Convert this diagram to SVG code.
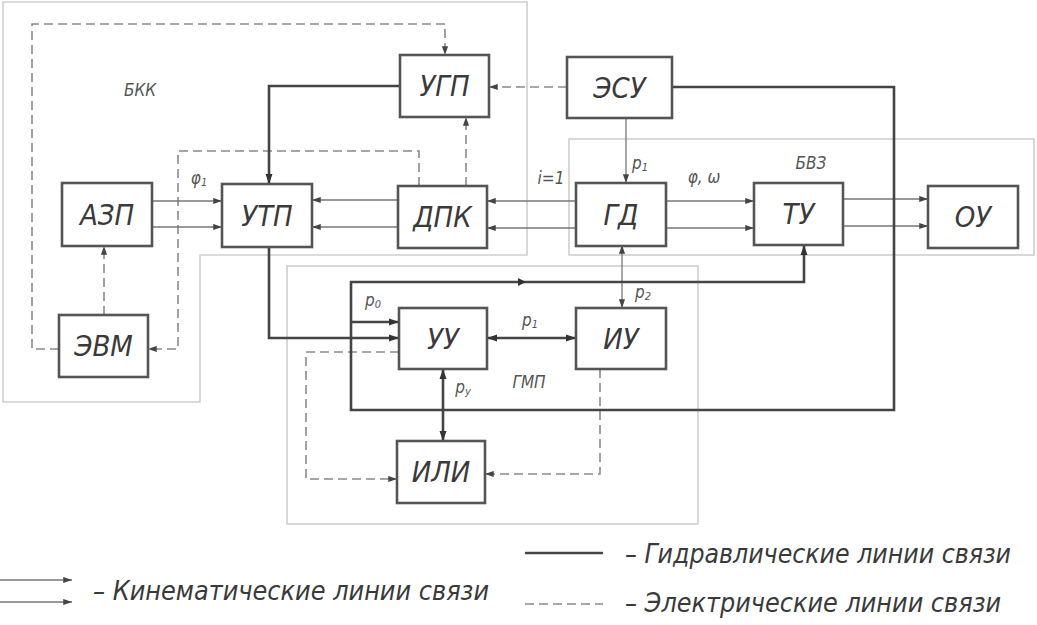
<svg xmlns="http://www.w3.org/2000/svg" width="1037" height="625" viewBox="0 0 1037 625">
<defs>
<style>
.bnd{fill:none;stroke:#cfcfcf;stroke-width:1.6}
.box{fill:#fff;stroke:#555;stroke-width:2.6}
.bl{font-family:"DejaVu Sans Condensed","Liberation Sans Narrow","Liberation Sans",sans-serif;font-style:italic;font-size:29px;fill:#3a3a3a;text-anchor:middle;dominant-baseline:central}
.lb{font-family:"DejaVu Sans Condensed","Liberation Sans Narrow","Liberation Sans",sans-serif;font-style:italic;font-size:17px;fill:#555;text-anchor:middle;dominant-baseline:central}
.lg{font-family:"DejaVu Sans Condensed","Liberation Sans Narrow","Liberation Sans",sans-serif;font-style:italic;font-size:26px;fill:#3a3a3a}
.hyd{fill:none;stroke:#444;stroke-width:2.6}
.kin{fill:none;stroke:#777;stroke-width:1.3}
.el{fill:none;stroke:#8a8a8a;stroke-width:1.6;stroke-dasharray:9 5}
</style>
<marker id="ah" viewBox="0 0 10 8" refX="10" refY="4" markerWidth="10" markerHeight="8" markerUnits="userSpaceOnUse" orient="auto-start-reverse"><path d="M0,0.5 L10,4 L0,7.5 Z" fill="#333"/></marker>
<marker id="ahs" viewBox="0 0 10 8" refX="10" refY="4" markerWidth="9" markerHeight="7" markerUnits="userSpaceOnUse" orient="auto-start-reverse"><path d="M0,0.5 L10,4 L0,7.5 Z" fill="#444"/></marker>
</defs>
<rect width="1037" height="625" fill="#fff"/>

<g id="boundaries">
<path class="bnd" d="M3,2 H527 V255 H200 V402 H3 Z"/>
<rect class="bnd" x="569" y="139" width="465" height="116"/>
<rect class="bnd" x="287" y="266" width="411" height="258"/>
</g>

<g id="connectors">
<!-- electrical -->
<path class="el" d="M59,349 H32 V24 H445 V55" marker-end="url(#ahs)"/>
<path class="el" d="M419,186 V151 H178 V349 H148" marker-end="url(#ahs)"/>
<path class="el" d="M104,315 V246" marker-end="url(#ahs)"/>
<path class="el" d="M466,186 V117" marker-end="url(#ahs)"/>
<path class="el" d="M567,87 H489" marker-end="url(#ahs)"/>
<path class="el" d="M399,352 H306 V479 H397" marker-end="url(#ahs)"/>
<path class="el" d="M600,369 V474 H485" marker-end="url(#ahs)"/>
<!-- kinematic -->
<path class="kin" d="M152,201 H222" marker-end="url(#ahs)"/>
<path class="kin" d="M152,227 H222" marker-end="url(#ahs)"/>
<path class="kin" d="M398,200 H312" marker-end="url(#ahs)"/>
<path class="kin" d="M398,227 H312" marker-end="url(#ahs)"/>
<path class="kin" d="M576,201 H487" marker-end="url(#ahs)"/>
<path class="kin" d="M576,228 H487" marker-end="url(#ahs)"/>
<path class="kin" d="M666,201 H754" marker-end="url(#ahs)"/>
<path class="kin" d="M666,228 H754" marker-end="url(#ahs)"/>
<path class="kin" d="M843,199 H928" marker-end="url(#ahs)"/>
<path class="kin" d="M843,226 H928" marker-end="url(#ahs)"/>
<path class="kin" d="M626,118 V183" marker-end="url(#ahs)"/>
<path class="kin" stroke-width="1.6" d="M622,245 V308" marker-start="url(#ahs)" marker-end="url(#ahs)"/>
<!-- hydraulic -->
<path class="hyd" d="M400,86 H269 V184" marker-end="url(#ah)"/>
<path class="hyd" d="M269,247 V338 H399" marker-end="url(#ah)"/>
<path class="hyd" d="M672,87 H894 V410 H351 V282 H804 V245" marker-end="url(#ah)"/>
<path class="hyd" d="M351,322 H399" marker-end="url(#ah)"/>
<path class="hyd" d="M487,338 H576" marker-start="url(#ah)" marker-end="url(#ah)"/>
<path class="hyd" d="M443,369 V441" marker-start="url(#ah)" marker-end="url(#ah)"/>
<path d="M518,278 L526,282 L518,286 Z" fill="#333"/>
</g>

<g id="n-ugp"><rect class="box" x="400" y="55" width="89" height="62"/><text class="bl" x="444.5" y="86">УГП</text></g>
<g id="n-esu"><rect class="box" x="567" y="57" width="105" height="61"/><text class="bl" x="619.5" y="87.5">ЭСУ</text></g>
<g id="n-azp"><rect class="box" x="62" y="183" width="90" height="63"/><text class="bl" x="107" y="214.5">АЗП</text></g>
<g id="n-utp"><rect class="box" x="222" y="184" width="90" height="63"/><text class="bl" x="267" y="215.5">УТП</text></g>
<g id="n-dpk"><rect class="box" x="398" y="186" width="89" height="62"/><text class="bl" x="442.5" y="217">ДПК</text></g>
<g id="n-gd"><rect class="box" x="576" y="183" width="90" height="63"/><text class="bl" x="621" y="214.5">ГД</text></g>
<g id="n-tu"><rect class="box" x="754" y="183" width="89" height="62"/><text class="bl" x="798.5" y="214">ТУ</text></g>
<g id="n-ou"><rect class="box" x="928" y="186" width="90" height="62"/><text class="bl" x="973" y="217">ОУ</text></g>
<g id="n-evm"><rect class="box" x="59" y="315" width="89" height="62"/><text class="bl" x="103.5" y="346">ЭВМ</text></g>
<g id="n-uu"><rect class="box" x="399" y="308" width="88" height="61"/><text class="bl" x="443" y="338.5">УУ</text></g>
<g id="n-iu"><rect class="box" x="576" y="308" width="90" height="61"/><text class="bl" x="621" y="338.5">ИУ</text></g>
<g id="n-ili"><rect class="box" x="397" y="441" width="88" height="62"/><text class="bl" x="441" y="472">ИЛИ</text></g>

<g id="labels">
<text class="lb" x="140" y="90">БКК</text>
<text class="lb" x="199" y="178">φ<tspan font-size="11" dy="4">1</tspan></text>
<text class="lb" x="551" y="178">i=1</text>
<text class="lb" x="640" y="163">p<tspan font-size="11" dy="4">1</tspan></text>
<text class="lb" x="704" y="177">φ, ω</text>
<text class="lb" x="811" y="163">БВЗ</text>
<text class="lb" x="373" y="300">p<tspan font-size="11" dy="4">0</tspan></text>
<text class="lb" x="530" y="320">p<tspan font-size="11" dy="4">1</tspan></text>
<text class="lb" x="643" y="292">p<tspan font-size="11" dy="4">2</tspan></text>
<text class="lb" x="463" y="387">p<tspan font-size="11" dy="4">у</tspan></text>
<text class="lb" x="529" y="382">ГМП</text>
</g>

<g id="legend">
<path class="kin" d="M0,580 H72" marker-end="url(#ahs)"/>
<path class="kin" d="M0,602 H72" marker-end="url(#ahs)"/>
<text class="lg" x="93" y="600" textLength="396" lengthAdjust="spacingAndGlyphs">– Кинематические линии связи</text>
<path class="hyd" d="M525,553 H603"/>
<text class="lg" x="625" y="563" textLength="386" lengthAdjust="spacingAndGlyphs">– Гидравлические линии связи</text>
<path class="el" d="M525,604 H603" stroke="#bbb"/>
<text class="lg" x="625" y="612" textLength="376" lengthAdjust="spacingAndGlyphs">– Электрические линии связи</text>
</g>
</svg>
